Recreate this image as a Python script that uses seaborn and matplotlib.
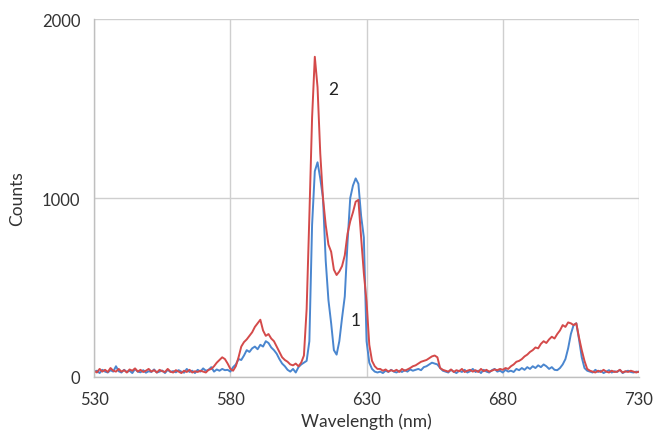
import numpy as np
import pandas as pd
import matplotlib
matplotlib.use('Agg')
import matplotlib.pyplot as plt
import seaborn as sns

# Wavelength grid (nm)
wavelength = np.arange(530, 731, 1)

# Spectrum 1 (blue)
counts_1 = [
    28, 35, 22, 40, 30, 25, 38, 30, 60, 32,
    25, 40, 28, 35, 22, 45, 30, 26, 38, 24,
    32, 28, 42, 25, 30, 36, 22, 40, 28, 33,
    26, 38, 30, 24, 45, 28, 35, 22, 40, 30,
    48, 35, 40, 55, 30, 42, 35, 45, 38, 40,
    30, 55, 70, 100, 95, 120, 150, 140, 160, 170,
    155, 180, 170, 200, 190, 165, 150, 130, 100, 75,
    60, 40, 30, 45, 25, 55, 70, 80, 90, 200,
    850, 1150, 1200, 1110, 1000, 650, 430, 300, 150, 125,
    200, 330, 450, 750, 1000, 1070, 1110, 1080, 900, 780,
    200, 80, 45, 30, 25, 30, 22, 35, 28, 40,
    30, 25, 35, 28, 38, 30, 42, 35, 40, 45,
    38, 55, 60, 70, 80, 75, 70, 50, 35, 30,
    25, 40, 30, 22, 35, 28, 40, 25, 32, 45,
    28, 35, 22, 40, 30, 25, 38, 45, 30, 35,
    25, 40, 30, 35, 28, 45, 38, 50, 40, 55,
    45, 60, 50, 65, 55, 70, 60, 45, 55, 40,
    38, 50, 70, 100, 160, 240, 290, 300, 210, 110,
    50, 35, 30, 25, 40, 28, 35, 22, 30, 38,
    25, 32, 28, 40, 22, 30, 35, 28, 25, 30,
    28,
]

# Spectrum 2 (red)
counts_2 = [
    35, 25, 45, 30, 40, 28, 50, 35, 30, 45,
    30, 38, 25, 42, 35, 48, 30, 40, 28, 35,
    45, 30, 38, 25, 40, 32, 28, 45, 30, 25,
    38, 30, 22, 35, 28, 40, 25, 32, 28, 35,
    30, 25, 40, 45, 60, 80, 95, 110, 100, 75,
    45, 35, 60, 110, 170, 195, 210, 230, 250, 280,
    300, 320, 260, 230, 240, 215, 200, 170, 140, 110,
    95, 85, 70, 65, 75, 60, 80, 120, 380, 900,
    1450, 1790, 1620, 1250, 1000, 850, 740, 700, 600, 570,
    590, 620, 680, 800, 870, 920, 980, 990, 780, 580,
    420, 180, 90, 60, 45, 45, 35, 42, 30, 38,
    32, 40, 28, 45, 35, 42, 50, 60, 65, 75,
    85, 90, 95, 105, 115, 120, 110, 50, 40, 35,
    30, 42, 28, 38, 32, 45, 28, 35, 40, 30,
    38, 28, 45, 32, 40, 30, 35, 42, 38, 45,
    40, 50, 45, 60, 70, 85, 90, 100, 115, 125,
    140, 150, 165, 160, 185, 200, 190, 210, 225, 215,
    240, 260, 290, 280, 305, 300, 290, 300, 220, 150,
    90, 45, 35, 30, 25, 35, 28, 40, 30, 25,
    35, 28, 30, 40, 25, 32, 28, 35, 30, 25,
    30,
]

x_ticks = [530, 580, 630, 680, 730]
y_ticks = [0, 1000, 2000]

sns.set_style('white')
plt.rcParams['font.family'] = ['Lato', 'DejaVu Sans']

fig = plt.figure(figsize=(6.54, 4.39), dpi=100)
ax = fig.add_axes([0.144, 0.139, 0.833, 0.815])

sns.lineplot(x=wavelength, y=counts_1, color='#4a86cf', linewidth=1.4, ax=ax)
sns.lineplot(x=wavelength, y=counts_2, color='#d44a4a', linewidth=1.4, ax=ax)

ax.text(616.0, 1610, '2', fontsize=12.5, color='#222222', va='center')
ax.text(624.0, 320, '1', fontsize=12.5, color='#222222', va='center')

ax.set_xlim(530, 730)
ax.set_ylim(0, 2000)
ax.set_xticks(x_ticks)
ax.set_yticks(y_ticks)
ax.grid(True, color='#cfcfcf', linewidth=1.0)
ax.set_axisbelow(True)

for side in ['top', 'right']:
    ax.spines[side].set_visible(False)
for side in ['left', 'bottom']:
    ax.spines[side].set_color('#bfbfbf')
    ax.spines[side].set_linewidth(1.0)

ax.tick_params(axis='both', direction='out', length=5, color='#bfbfbf',
               labelsize=12, labelcolor='#333333', pad=5)
ax.set_xlabel('Wavelength (nm)', fontsize=12.5, color='#333333', labelpad=4)
ax.set_ylabel('Counts', fontsize=12.5, color='#333333', labelpad=12)

plt.savefig('out.png', dpi=100)
plt.close()
